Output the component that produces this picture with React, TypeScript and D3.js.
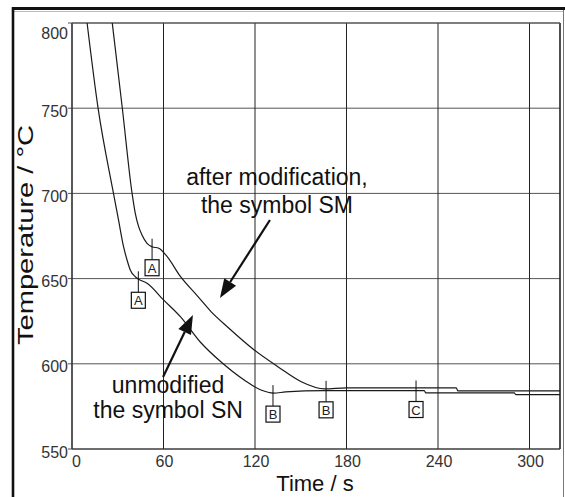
import React from 'react';
import * as d3 from 'd3';

// Unmodified alloy (symbol SN)
const snTime = [9.9, 17.1, 27.2, 30.5, 33.8, 36.1, 38.2, 41.5, 43.7, 49.2, 60, 71.2, 84.4, 97.6, 112.9, 123.9, 132.3, 140, 165, 231, 232, 290, 291, 320];
const snTemp = [800, 750, 700, 684.4, 668.7, 660.9, 655.1, 651.1, 649.6, 647.3, 637.5, 627.5, 612.5, 601.2, 590.5, 584.6, 582.8, 583.5, 584.3, 584.3, 582.9, 582.9, 581.9, 581.9];
// After modification (symbol SM)
const smTime = [26.4, 33, 39.4, 41.5, 43.7, 45.9, 49.2, 52.5, 56.9, 62.4, 71.2, 82.2, 91, 102, 119.5, 135, 150.3, 165.7, 180, 252, 253, 320];
const smTemp = [800, 750, 700, 688.3, 680.5, 675.6, 670.7, 668.7, 667.8, 662.9, 651.1, 639.9, 630.8, 621.6, 608.1, 598.3, 589.5, 585.3, 585.9, 585.9, 584.1, 584.1];

// Characteristic points
const markerLabels = ['A', 'A', 'B', 'B', 'C'];
const markerTime = [43.5, 52.5, 131.8, 166.6, 225.6];
const markerTemp = [649.6, 668.7, 582.8, 585.3, 585.5];

const xTicks = [0, 60, 120, 180, 240, 300];
const yTicks = [550, 600, 650, 700, 750, 800];

// Annotations (data coordinates)
const noteSM = ['after modification,', 'the symbol SM'];
const noteSMPos = [134.4, 704.9, 688.5];
const arrowSM = [129.8, 684.4, 97.0, 638.6];
const noteSN = ['unmodified', 'the symbol SN'];
const noteSNPos = [63, 582.9, 568.2];
const arrowSN = [59.7, 592.3, 79.3, 628.7];

const W = 565;
const H = 497;
const FONT = "'Liberation Sans', Arial, Helvetica, sans-serif";

export default function App() {
  const x = d3.scaleLinear().domain([0, 320]).range([72, 560]);
  const y = d3.scaleLinear().domain([550, 800]).range([449, 23]);

  const line = d3
    .line<[number, number]>()
    .x((d) => x(d[0]))
    .y((d) => y(d[1]))
    .curve(d3.curveMonotoneX);

  const snData: [number, number][] = snTime.map((t, i) => [t, snTemp[i]]);
  const smData: [number, number][] = smTime.map((t, i) => [t, smTemp[i]]);

  const arrow = (a: number[], key: string) => {
    const x1 = x(a[0]), y1 = y(a[1]), x2 = x(a[2]), y2 = y(a[3]);
    const dx = x2 - x1, dy = y2 - y1;
    const len = Math.sqrt(dx * dx + dy * dy);
    const ux = dx / len, uy = dy / len;
    const hl = 19, hw = 7;
    const bx = x2 - ux * hl, by = y2 - uy * hl;
    const pts = [
      [x2, y2],
      [bx - uy * hw, by + ux * hw],
      [bx + uy * hw, by - ux * hw],
    ];
    return (
      <g key={key}>
        <line x1={x1} y1={y1} x2={bx} y2={by} stroke="#111" strokeWidth={2.2} />
        <polygon points={pts.map((p) => p.join(',')).join(' ')} fill="#111" />
      </g>
    );
  };

  return (
    <svg
      width={W}
      height={H}
      style={{ position: 'absolute', left: 0, top: 0, display: 'block', background: '#fff' }}
      fontFamily={FONT}
    >
      <rect x={0} y={0} width={W} height={H} fill="#fff" />
      {/* outer frame */}
      <line x1={12} y1={8.5} x2={565} y2={8.5} stroke="#111" strokeWidth={3} />
      <line x1={14} y1={11.5} x2={563} y2={11.5} stroke="#aaa" strokeWidth={0.8} />
      <line x1={13} y1={7} x2={13} y2={H} stroke="#111" strokeWidth={2.6} />
      <line x1={563.5} y1={10} x2={563.5} y2={H} stroke="#777" strokeWidth={1} />

      {/* horizontal grid */}
      {yTicks.map((v) => (
        <line key={'hg' + v} x1={x(0) - 4} x2={x(320)} y1={y(v)} y2={y(v)} stroke="#555" strokeWidth={1} />
      ))}
      {/* vertical grid */}
      {xTicks.map((v) => (
        <line key={'vg' + v} x1={x(v)} x2={x(v)} y1={y(800)} y2={y(550)} stroke="#222" strokeWidth={1} />
      ))}
      {/* plot border */}
      <line x1={x(0)} x2={x(0)} y1={y(800)} y2={y(550)} stroke="#333" strokeWidth={1.2} />
      <line x1={x(320)} x2={x(320)} y1={y(800)} y2={y(550)} stroke="#222" strokeWidth={1.6} />
      <line x1={x(0)} x2={x(320)} y1={y(550)} y2={y(550)} stroke="#333" strokeWidth={1.2} />
      <line x1={x(0)} x2={x(320)} y1={y(800)} y2={y(800)} stroke="#555" strokeWidth={1} />

      {/* y tick labels */}
      {yTicks.map((v) => (
        <text key={'yl' + v} x={68} y={Math.max(y(v) + 8.5, 38.5)} textAnchor="end" fontSize={16} fill="#333">
          {v}
        </text>
      ))}
      {/* x tick labels */}
      {xTicks.map((v) => (
        <text
          key={'xl' + v}
          x={v === 0 ? x(v) : x(v) + 1}
          y={467}
          textAnchor={v === 0 ? 'start' : 'middle'}
          fontSize={16}
          fill="#333"
        >
          {v}
        </text>
      ))}

      {/* axis titles */}
      <text x={315} y={491} textAnchor="middle" fontSize={22} fill="#111">
        Time / s
      </text>
      <text
        transform="translate(33,235) rotate(-90)"
        textAnchor="middle"
        fontSize={22}
        fill="#111"
        textLength={220}
        lengthAdjust="spacingAndGlyphs"
      >
        Temperature / °C
      </text>

      {/* curves */}
      <path d={line(snData) || ''} fill="none" stroke="#1a1a1a" strokeWidth={1.2} />
      <path d={line(smData) || ''} fill="none" stroke="#1a1a1a" strokeWidth={1.2} />

      {/* characteristic point markers */}
      {markerLabels.map((lab, i) => {
        const cx = x(markerTime[i]);
        const cy = y(markerTemp[i]);
        return (
          <g key={'m' + i}>
            <line x1={cx} x2={cx} y1={cy - 8} y2={cy + 13} stroke="#111" strokeWidth={1} />
            <rect x={cx - 7} y={cy + 13} width={14} height={16} fill="#fff" stroke="#111" strokeWidth={1.2} />
            <text x={cx} y={cy + 26} textAnchor="middle" fontSize={13} fill="#222">
              {lab}
            </text>
          </g>
        );
      })}

      {/* annotations */}
      {noteSM.map((s, i) => (
        <text key={'nsm' + i} x={x(noteSMPos[0])} y={y(noteSMPos[1 + i])} textAnchor="middle" fontSize={23} fill="#111">
          {s}
        </text>
      ))}
      {noteSN.map((s, i) => (
        <text key={'nsn' + i} x={x(noteSNPos[0])} y={y(noteSNPos[1 + i])} textAnchor="middle" fontSize={23} fill="#111">
          {s}
        </text>
      ))}
      {arrow(arrowSM, 'asm')}
      {arrow(arrowSN, 'asn')}
    </svg>
  );
}
